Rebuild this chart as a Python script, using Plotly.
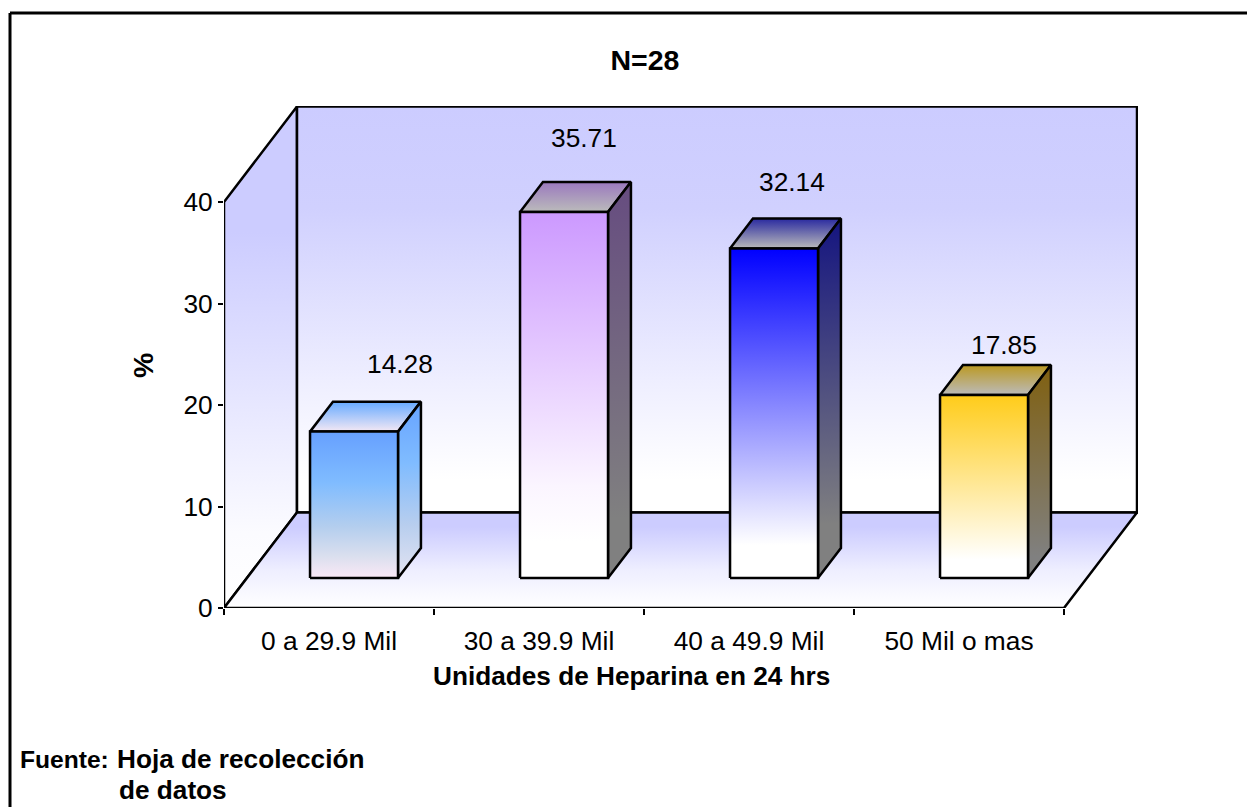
import plotly.graph_objects as go

# ---- data ----
categories = ["0 a 29.9 Mil", "30 a 39.9 Mil", "40 a 49.9 Mil", "50 Mil o mas"]
values = [14.28, 35.71, 32.14, 17.85]
value_labels = ["14.28", "35.71", "32.14", "17.85"]
y_ticks = [0, 10, 20, 30, 40]
title_text = "N=28"
x_title = "Unidades de Heparina en 24 hrs"
y_title = "%"
source_lines = ["Fuente:", "Hoja de recolección", "de datos"]

# ---- styles ----
front_colors = [
    [[0, "#66A0FF"], [0.35, "#80BCFF"], [0.65, "#B4CEEE"], [0.85, "#DADFEE"], [1, "#FAE8F6"]],
    [[0, "#CC99FF"], [0.75, "#FBF5FF"], [0.9, "#FFFFFF"], [1, "#FFFFFF"]],
    [[0, "#0000FF"], [0.9, "#FFFFFF"], [1, "#FFFFFF"]],
    [[0, "#FFCC1A"], [0.9, "#FFFFFF"], [1, "#FFFFFF"]],
]
side_colors = [
    [[0, "#66A3FF"], [0.35, "#80BCFF"], [0.7, "#B8CEEE"], [1, "#E4E4F2"]],
    [[0, "#664C80"], [0.85, "#808080"], [1, "#808080"]],
    [[0, "#141480"], [0.85, "#808080"], [1, "#808080"]],
    [[0, "#806010"], [0.9, "#808080"], [1, "#808080"]],
]
top_colors = [
    [[0, "#66AAFF"], [1, "#F4E8F4"]],
    [[0, "#9A78BE"], [1, "#BBBBBB"]],
    [[0, "#2A2AA0"], [1, "#BBBBBB"]],
    [[0, "#BB9922"], [1, "#BBBBBB"]],
]
WALL = "#CCCCFF"
FONT = "Liberation Sans"
TEXT_SIZE = 26.3
BOLD_SIZE = 26.2
W, H = 1247, 807
L, R, T, B = 224, 109, 106, 199          # plot area in the page
PX_PER_CAT = 210.0
PX_PER_UNIT = 10.15
DEPTH_X = 73 / PX_PER_CAT                # floor depth, in category widths
DEPTH_Y = 95.5 / PX_PER_UNIT             # floor depth, in value units
BAR_D0, BAR_D1 = 0.314, 0.628            # bar depth on the floor
BAR_WIDTH = 0.419
BAR_SHIFT = 0.51
Z_SCALE = 1.01
x_max = (W - L - R) / PX_PER_CAT
y_max = (H - T - B) / PX_PER_UNIT


def proj(x, z, d):
    return x + d * DEPTH_X, z + d * DEPTH_Y


def face(points, scale, start, stop):
    xs, ys = zip(*(points + points[:1]))
    return go.Scatter(
        x=list(xs), y=list(ys), mode="lines", fill="toself",
        fillgradient=dict(type="vertical", colorscale=scale, start=start, stop=stop),
        line=dict(color="#000000", width=2.5), hoverinfo="skip", showlegend=False,
    )


fig = go.Figure()
top_wall = y_ticks[-1]
n = len(categories)
# left wall
left = [proj(0, 0, 0), proj(0, top_wall, 0), proj(0, top_wall, 1), proj(0, 0, 1)]
fig.add_trace(face(left, [[0, WALL], [0.25, WALL], [0.85, "#FBFBFF"], [1, "#FFFFFF"]],
                   top_wall + DEPTH_Y, 0))
# back wall
back = [proj(0, 0, 1), proj(0, top_wall, 1), proj(n, top_wall, 1), proj(n, 0, 1)]
fig.add_trace(face(back, [[0, WALL], [0.25, "#D0D0FE"], [0.7, "#F0F0FF"], [0.92, "#FFFFFF"], [1, "#FFFFFF"]],
                   top_wall + DEPTH_Y, DEPTH_Y))
# floor
floor = [proj(0, 0, 0), proj(0, 0, 1), proj(n, 0, 1), proj(n, 0, 0)]
fig.add_trace(face(floor, [[0, WALL], [0.15, WALL], [0.6, "#EEEEFF"], [1, "#FFFFFF"]], DEPTH_Y, 0))

# bars
for i, v in enumerate(values):
    x0 = i + BAR_SHIFT - BAR_WIDTH / 2
    x1 = i + BAR_SHIFT + BAR_WIDTH / 2
    h = v * Z_SCALE
    fa = proj(x0, 0, BAR_D0); fb = proj(x1, 0, BAR_D0)
    fc = proj(x1, h, BAR_D0); fd = proj(x0, h, BAR_D0)
    bb = proj(x1, 0, BAR_D1); bc = proj(x1, h, BAR_D1); bd = proj(x0, h, BAR_D1)
    fig.add_trace(face([fd, bd, bc, fc], top_colors[i], bc[1], fc[1]))
    fig.add_trace(face([fb, bb, bc, fc], side_colors[i], bc[1], fb[1]))
    fig.add_trace(face([fa, fd, fc, fb], front_colors[i], fc[1], fa[1]))

ann = []
label_dx = [46, 20, 18, 20]
label_py = [364, 138, 182, 345]
for i, t in enumerate(value_labels):
    y = (H - B - label_py[i]) / PX_PER_UNIT
    ann.append(dict(x=i + BAR_SHIFT + (22.9 + label_dx[i]) / PX_PER_CAT, y=y, text=t, xref="x", yref="y",
                    showarrow=False, xanchor="center", yanchor="middle",
                    font=dict(family=FONT, size=TEXT_SIZE, color="#000000")))


def page(text, px, py, size, anchor="left", rot=0):
    ann.append(dict(x=(px - L) / (W - L - R), y=(H - B - py) / (H - T - B), text=text,
                    xref="paper", yref="paper", showarrow=False, xanchor=anchor, yanchor="middle",
                    textangle=rot, font=dict(family=FONT, size=size, color="#000000")))


page(f"<b>{x_title}</b>", 631, 676, BOLD_SIZE, "center")
page(f"<b>{y_title}</b>", 143, 366, 28.5, "center", -90)
page(f"<b>{source_lines[0]}</b>", 18, 759, 24.6)
page(f"<b>{source_lines[1]}</b>", 115, 759, BOLD_SIZE)
page(f"<b>{source_lines[2]}</b>", 117, 790, BOLD_SIZE)


def fx(px):
    return (px - L) / (W - L - R)


def fy(py):
    return (H - B - py) / (H - T - B)


frame = [
    dict(type="line", xref="paper", yref="paper", x0=fx(10), x1=fx(10), y0=fy(13), y1=fy(H),
         line=dict(color="#000000", width=3)),
    dict(type="line", xref="paper", yref="paper", x0=fx(10), x1=fx(W), y0=fy(13), y1=fy(13),
         line=dict(color="#000000", width=3)),
]

fig.update_layout(
    width=W, height=H, margin=dict(l=L, r=R, t=T, b=B),
    paper_bgcolor="#FFFFFF", plot_bgcolor="#FFFFFF", showlegend=False,
    title=dict(text=f"<b>{title_text}</b>", x=645 / W, xanchor="center", y=1 - 60 / H, yanchor="middle",
               font=dict(family=FONT, size=28.5, color="#000000")),
    xaxis=dict(range=[0, x_max], showgrid=False, zeroline=False, showline=False,
               tickmode="array", tickvals=[i + 0.5 for i in range(n)], ticktext=categories,
               ticks="", tickfont=dict(family=FONT, size=TEXT_SIZE, color="#000000"), ticklabelstandoff=15,
               minor=dict(tickmode="array", tickvals=list(range(n + 1)), ticks="outside", ticklen=6, tickwidth=2, tickcolor="#000000", showgrid=False)),
    yaxis=dict(range=[0, y_max], showgrid=False, zeroline=False, showline=False,
               tickmode="array", tickvals=y_ticks, ticks="outside", ticklen=5, tickwidth=2,
               tickcolor="#000000", tickfont=dict(family=FONT, size=TEXT_SIZE, color="#000000")),
    annotations=ann, shapes=frame,
)
fig.write_html("out.html", config=dict(displayModeBar=False),
               post_script="document.body.style.margin='0';document.body.style.overflow='hidden';")
